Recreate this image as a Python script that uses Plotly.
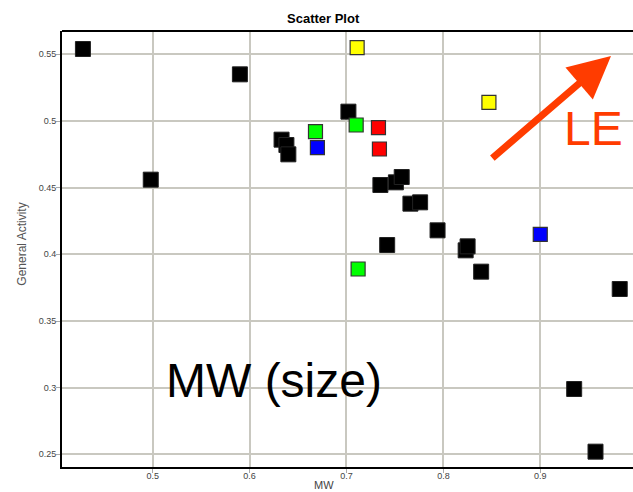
import plotly.graph_objects as go

# Compounds grouped by marker colour: MW (x) vs General Activity (y)
black_mw = [0.428, 0.590, 0.498, 0.633, 0.638, 0.640, 0.702, 0.735, 0.751, 0.757,
            0.766, 0.776, 0.794, 0.742, 0.823, 0.825, 0.839, 0.982, 0.935, 0.957]
black_act = [0.554, 0.535, 0.456, 0.486, 0.482, 0.475, 0.507, 0.452, 0.454, 0.458,
             0.438, 0.439, 0.418, 0.407, 0.403, 0.406, 0.387, 0.374, 0.299, 0.252]

green_mw = [0.668, 0.710, 0.712]
green_act = [0.492, 0.497, 0.389]

blue_mw = [0.670, 0.900]
blue_act = [0.480, 0.415]

red_mw = [0.733, 0.734]
red_act = [0.495, 0.479]

yellow_mw = [0.711, 0.847]
yellow_act = [0.555, 0.514]

x_ticks = [0.5, 0.6, 0.7, 0.8, 0.9]
y_ticks = [0.25, 0.3, 0.35, 0.4, 0.45, 0.5, 0.55]
y_tick_text = ["0.25", "0.3", "0.35", "0.4", "0.45", "0.5", "0.55"]

FONT = "Liberation Sans, Arial, Helvetica, sans-serif"
ARROW_COLOR = "#ff3c00"

fig = go.Figure()

fig.add_trace(go.Scatter(
    x=black_mw, y=black_act, mode="markers",
    marker=dict(symbol="square", size=15, color="#000000",
                line=dict(color="#222222", width=1)),
    hoverinfo="x+y", showlegend=False))

for xs, ys, col in [(green_mw, green_act, "#00ff00"),
                    (blue_mw, blue_act, "#0000ff"),
                    (red_mw, red_act, "#ff0000"),
                    (yellow_mw, yellow_act, "#ffff00")]:
    fig.add_trace(go.Scatter(
        x=xs, y=ys, mode="markers",
        marker=dict(symbol="square", size=14, color=col,
                    line=dict(color="#333333", width=1.2)),
        hoverinfo="x+y", showlegend=False))

grid = "#c9c8c0"
fig.update_xaxes(range=[0.4064, 0.9957], tickvals=x_ticks,
                 ticktext=[str(v) for v in x_ticks],
                 showgrid=True, gridcolor=grid, gridwidth=1.5, zeroline=False,
                 showline=True, linecolor="#000000", linewidth=2,
                 ticks="outside", ticklen=4, tickcolor="#aaaaaa",
                 ticklabelstandoff=-5,
                 tickfont=dict(family=FONT, size=9, color="#444444"))
fig.update_yaxes(range=[0.2405, 0.5675], tickvals=y_ticks, ticktext=y_tick_text,
                 showgrid=True, gridcolor=grid, gridwidth=1.5, zeroline=False,
                 showline=True, linecolor="#000000", linewidth=2,
                 ticks="outside", ticklen=4, tickcolor="#aaaaaa",
                 ticklabelstandoff=-2,
                 tickfont=dict(family=FONT, size=9, color="#444444"))

# top border of the plotting area
fig.add_shape(type="line", xref="paper", yref="paper", x0=0, x1=1, y0=1, y1=1,
              line=dict(color="#000000", width=2))

fig.add_annotation(text="<b>Scatter Plot</b>", xref="paper", yref="paper",
                   x=0.458, y=1, yanchor="middle", yshift=13, showarrow=False,
                   font=dict(family=FONT, size=13, color="#000000"))
fig.add_annotation(text="MW", xref="paper", yref="paper", x=0.458, y=0,
                   yanchor="middle", yshift=-18, showarrow=False,
                   font=dict(family=FONT, size=11, color="#444444"))
fig.add_annotation(text="General Activity", xref="paper", yref="paper",
                   x=-0.07, y=0.51, xanchor="center", textangle=-90,
                   showarrow=False,
                   font=dict(family=FONT, size=12, color="#555555"))

# LE trend arrow
fig.add_annotation(x=0.973, y=0.5487, ax=0.849, ay=0.4712, xref="x", yref="y",
                   axref="x", ayref="y", text="", showarrow=True,
                   arrowhead=2, arrowsize=1.2, arrowwidth=7, arrowcolor=ARROW_COLOR)
fig.add_annotation(text="LE", x=0.955, y=0.4945, xref="x", yref="y",
                   showarrow=False,
                   font=dict(family=FONT, size=48, color=ARROW_COLOR))
fig.add_annotation(text="MW (size)", x=0.625, y=0.3055, xref="x", yref="y",
                   showarrow=False,
                   font=dict(family=FONT, size=48, color="#000000"))

fig.update_layout(width=633, height=492,
                  margin=dict(l=62, r=0, t=31, b=25),
                  paper_bgcolor="#ffffff", plot_bgcolor="#ffffff")

fig.write_html("out.html", config={"displayModeBar": False})
